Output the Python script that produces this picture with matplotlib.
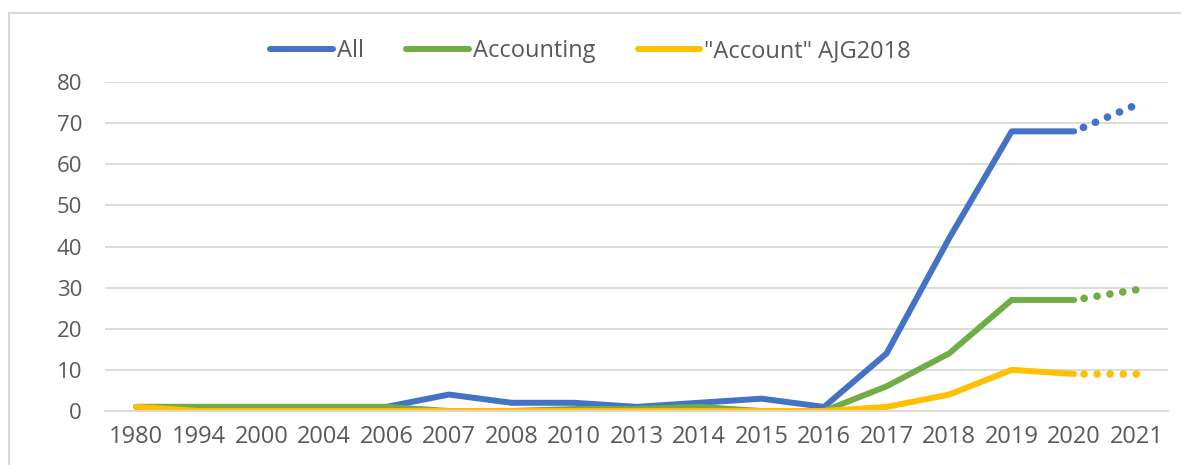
import matplotlib.pyplot as plt
from matplotlib.patches import Rectangle

# Data
years = ["1980", "1994", "2000", "2004", "2006", "2007", "2008", "2010", "2013",
         "2014", "2015", "2016", "2017", "2018", "2019", "2020", "2021"]
all_vals = [1, 1, 1, 1, 1, 4, 2, 2, 1, 2, 3, 1, 14, 42, 68, 68]
accounting = [1, 1, 1, 1, 1, 0, 0, 0.5, 0.5, 1, 0, 0, 6, 14, 27, 27]
account_ajg = [1, 0, 0, 0, 0, 0, 0, 0, 0, 0, 0, 0, 1, 4, 10, 9]
# 2021 projections (dotted)
all_2021 = 74.5
accounting_2021 = 29.5
account_ajg_2021 = 9

blue = "#4472C4"
green = "#70AD47"
yellow = "#FFC000"
text_col = "#595959"
grid_col = "#D9D9D9"

plt.rcParams["font.family"] = ["Open Sans", "DejaVu Sans"]

fig = plt.figure(figsize=(11.81, 4.65), dpi=100)
ax = fig.add_axes([105 / 1181, 1 - 411 / 465, (1168 - 105) / 1181, (411 - 82) / 465])

x = list(range(len(years)))
n = len(all_vals)
series = [
    (all_vals, all_2021, blue, "All"),
    (accounting, accounting_2021, green, "Accounting"),
    (account_ajg, account_ajg_2021, yellow, '"Account" AJG2018'),
]
for vals, proj, col, lab in series:
    ax.plot(x[:n], vals, color=col, lw=4.3, solid_capstyle="round",
            solid_joinstyle="round", label=lab)
    ax.plot([x[n - 1], x[n]], [vals[-1], proj], color=col, lw=5.5,
            linestyle=(0.4, (0.01, 1.7)), dash_capstyle="round")

ax.set_xlim(-0.5, len(years) - 0.5)
ax.set_ylim(0, 80)
ax.set_yticks(range(0, 81, 10))
ax.set_xticks(x)
ax.set_xticklabels(years)
ax.grid(axis="y", color=grid_col, lw=1.3)
ax.set_axisbelow(True)
for s in ["top", "right", "left"]:
    ax.spines[s].set_visible(False)
ax.spines["bottom"].set_color(grid_col)
ax.spines["bottom"].set_linewidth(1.3)
ax.tick_params(axis="both", length=0, colors=text_col)
ax.tick_params(axis="x", labelsize=17, pad=10)
ax.tick_params(axis="y", labelsize=16, pad=16.5)

leg = fig.legend(loc="center", bbox_to_anchor=(0.5, 1 - 51 / 465), ncol=3,
                 frameon=False, fontsize=17, handlelength=2.65,
                 columnspacing=1.8, handletextpad=0.17)
for t in leg.get_texts():
    t.set_color(text_col)

# Chart border
fig.patches.append(Rectangle((9 / 1181, -0.1), 1.2, 1 - 13 / 465 + 0.1,
                             transform=fig.transFigure, fill=False,
                             edgecolor=grid_col, lw=1.5))

fig.savefig("out.png", dpi=100)
